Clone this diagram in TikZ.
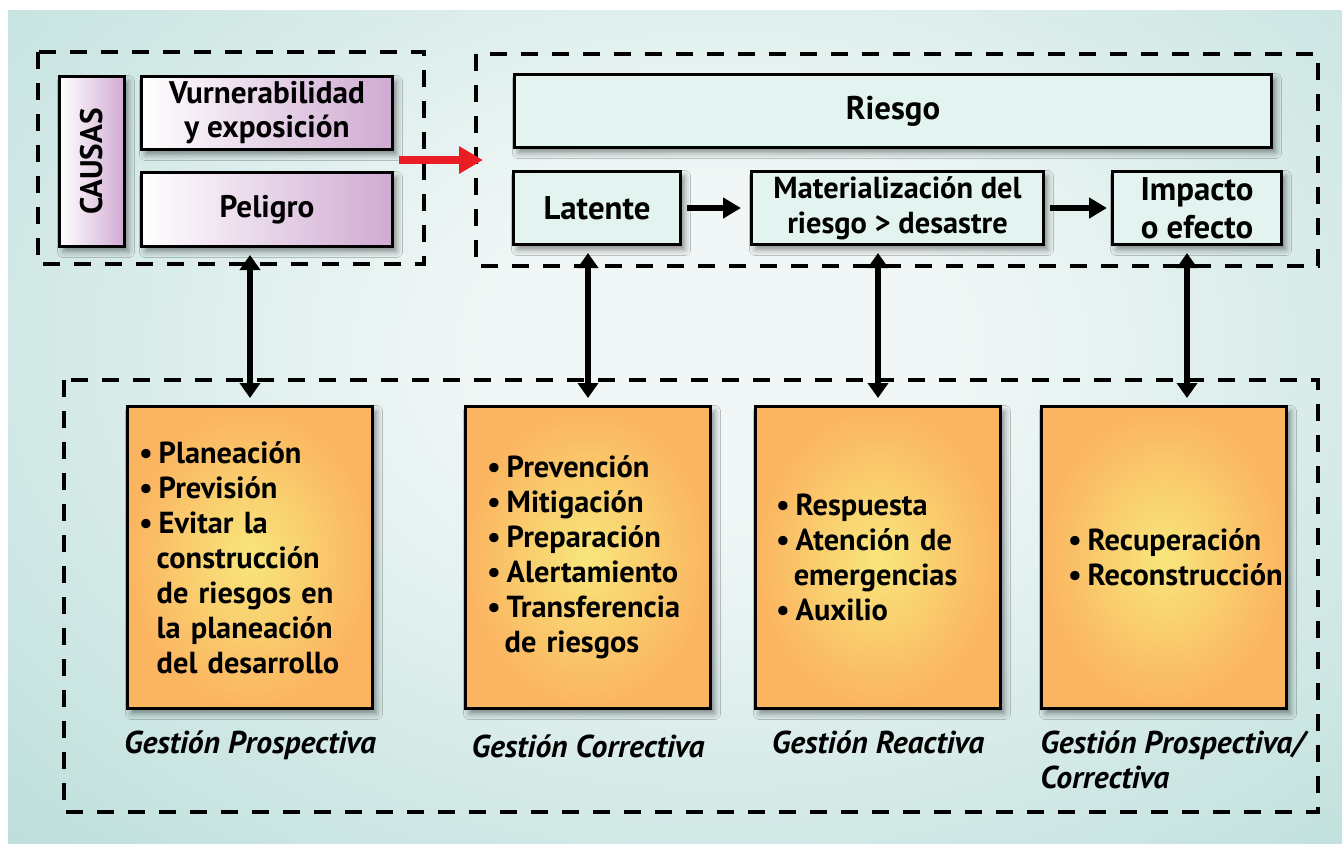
\documentclass[tikz,border=0pt]{standalone}
\usepackage{graphicx}
\usepackage{fontspec}
\setmainfont{PT Sans}
\usetikzlibrary{positioning,calc,arrows.meta,shadows.blur}

\definecolor{bgteal}{RGB}{150,204,198}
\definecolor{bglight}{RGB}{240,247,246}
\definecolor{lila}{RGB}{208,170,210}
\definecolor{menta}{RGB}{226,243,240}
\definecolor{naranja}{RGB}{251,180,96}
\definecolor{amarillo}{RGB}{248,230,124}
\definecolor{rojo}{RGB}{236,28,36}

\pgfdeclareradialshading{resplandor}{\pgfpointorigin}{color(0bp)=(bglight); color(6bp)=(bglight); color(40bp)=(bgteal); color(50bp)=(bgteal)}

\hyphenpenalty=10000
\exhyphenpenalty=10000
\newcommand{\itm}{\mbox{\textbullet\hspace{3pt}}\nobreak}
\newcommand{\ind}{\mbox{\phantom{\textbullet}\hspace{2pt}}\nobreak}

\begin{document}
\begin{tikzpicture}[x=0.5pt,y=-0.5pt,
    every node/.style={font=\bfseries\fontsize{15.2}{17.5}\selectfont},
    box/.style={draw,line width=1.5pt,rectangle,inner sep=2pt,anchor=north west,align=center,
      blur shadow={shadow xshift=2pt,shadow yshift=-2.5pt,shadow blur radius=3pt,shadow opacity=45}},
    causa/.style={box,left color=white,right color=lila,font=\bfseries\fontsize{15.6}{17}\selectfont},
    riesgobox/.style={box,fill=menta,minimum height=36.5pt,font=\bfseries\fontsize{16.4}{19}\selectfont},
    gestion/.style={box,inner color=amarillo,outer color=naranja,minimum width=122.5pt,minimum height=151pt,
      inner xsep=0pt,align=left},
    rotulo/.style={font=\bfseries\itshape\fontsize{15.8}{17.5}\selectfont,align=left,inner sep=0pt},
    marco/.style={line width=1.6pt,dash pattern=on 8.5pt off 7pt},
    flecha/.style={line width=3pt,-{Triangle[width=10pt,length=9pt]}},
    doble/.style={line width=3pt,{Triangle[width=10pt,length=7.5pt]}-{Triangle[width=10pt,length=7.5pt]},
      shorten <=3.5pt,shorten >=3.5pt}]
  % fondo
  \useasboundingbox (0,0) rectangle (1342,843);
  \fill[white] (0,0) rectangle (1342,843);
  \fill[bgteal] (8,10) rectangle (1342,843);
  \begin{scope}
    \clip (8,10) rectangle (1342,843);
    \shade[shading=resplandor] (-280,-350) rectangle (1720,1050);
  \end{scope}

  % marcos punteados
  \draw[marco] (38,52) rectangle (424,264);
  \draw[marco] (476,54) rectangle (1318,266);
  \draw[marco] (64,380) rectangle (1318,812);

  % causas
  \node[causa,minimum width=32.5pt,minimum height=85pt] (causas) at (58,75) {\rotatebox{90}{CAUSAS}};
  \node[causa,minimum width=125.5pt,minimum height=36.5pt] (vuln) at (140,75) {Vurnerabilidad\\y exposición};
  \node[causa,minimum width=125.5pt,minimum height=37pt] (peligro) at (140,171) {Peligro};

  % riesgo
  \node[riesgobox,minimum width=378.5pt] (riesgo) at (513,73) {Riesgo};
  \node[riesgobox,minimum width=83.5pt] (latente) at (512,170) {Latente};
  \node[riesgobox,minimum width=146pt,right=34pt of latente,font=\bfseries\fontsize{15.2}{17.5}\selectfont] (mater) {Materialización del\\riesgo > desastre};
  \node[riesgobox,minimum width=84.5pt,right=33pt of mater] (impacto) {Impacto\\o efecto};

  % gestion
  \node[gestion,text width=111pt] (prosp) at (126,405) {\itm Planeación\\ \itm Previsión\\ \itm Evitar la\\ \ind construcción\\ \ind de riesgos en\\ \ind la planeación\\ \ind del desarrollo};
  \node[gestion,text width=101pt,right=45pt of prosp] (correc) {\itm Prevención\\ \itm Mitigación\\ \itm Preparación\\ \itm Alertamiento\\ \itm Transferencia\\ \ind de riesgos};
  \node[gestion,text width=102pt,right=21pt of correc] (reac) {\itm Respuesta\\ \itm Atención de\\ \ind emergencias\\ \itm Auxilio};
  \node[gestion,text width=96pt,right=19pt of reac] (recup) {\itm Recuperación\\ \itm Reconstrucción};

  \node[rotulo,below=10pt of prosp] (lprosp) {Gestión Prospectiva};
  \node[rotulo,below=12pt of correc] (lcorrec) {Gestión Correctiva};
  \node[rotulo,below=10pt of reac] (lreac) {Gestión Reactiva};
  \node[rotulo,anchor=north west] (lrecup) at ([yshift=-10pt]recup.south west) {Gestión Prospectiva/\\Correctiva};

  % flechas
  \coordinate (rojoini) at (399,160);
  \coordinate (rojofin) at (483,160);
  \draw[line width=4pt,rojo,-{Triangle[width=13pt,length=12pt]}] (rojoini) -- (rojofin);
  \draw[flecha,shorten <=2.5pt,shorten >=4.5pt] (latente) -- (mater);
  \draw[flecha,shorten <=2.5pt,shorten >=2pt] (mater) -- (impacto);

  \coordinate (fimp) at ([xshift=-5pt]impacto.south);
  \draw[doble] (prosp.north |- peligro.south) -- (prosp.north);
  \draw[doble] (correc.north |- latente.south) -- (correc.north);
  \draw[doble] (reac.north |- mater.south) -- (reac.north);
  \draw[doble] (fimp) -- (fimp |- recup.north);
\end{tikzpicture}
\end{document}
